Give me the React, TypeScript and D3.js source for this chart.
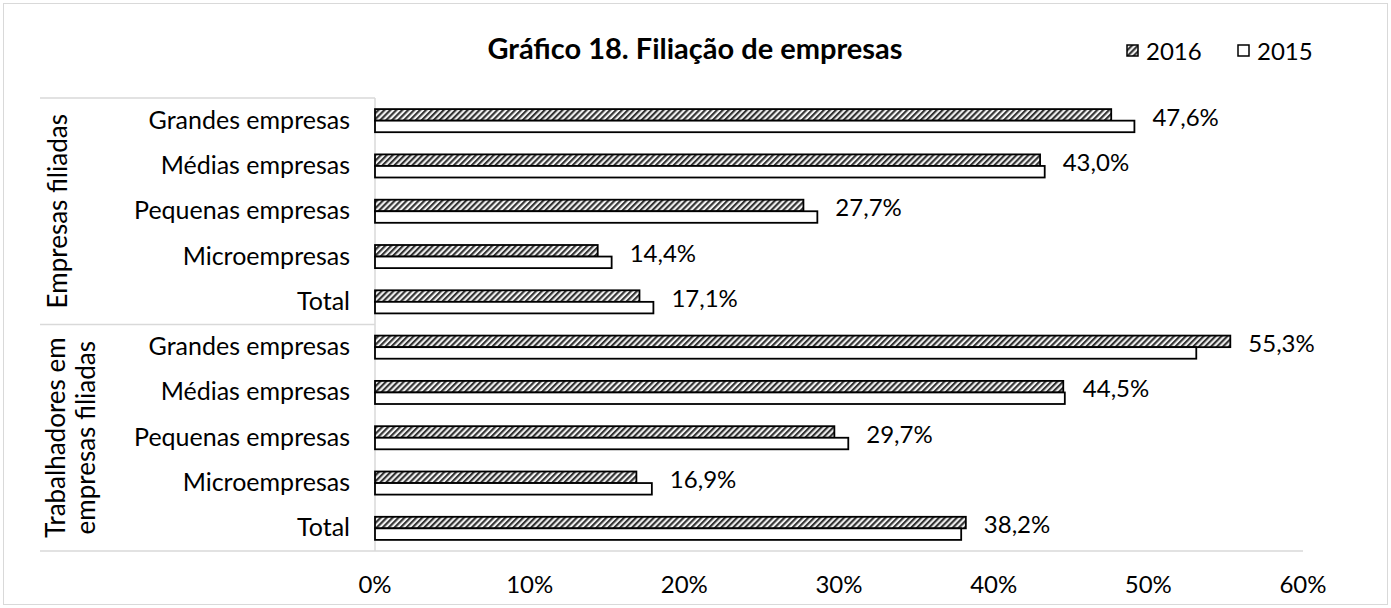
import { useEffect, useRef } from 'react';
import * as d3 from 'd3';

const groups = [['Empresas filiadas'], ['Trabalhadores em', 'empresas filiadas']];
const sizes = ['Grandes empresas', 'Médias empresas', 'Pequenas empresas', 'Microempresas', 'Total'];
const series = ['2016', '2015'];
// one value per row: first group then second group, same order as sizes
const values2016 = [47.6, 43.0, 27.7, 14.4, 17.1, 55.3, 44.5, 29.7, 16.9, 38.2];
const values2015 = [49.1, 43.3, 28.6, 15.3, 18.0, 53.1, 44.6, 30.6, 17.9, 37.9];
const ticks = [0, 10, 20, 30, 40, 50, 60];

const FONT = 'Lato, "Open Sans", sans-serif';

const App = () => {
  const svgRef = useRef<SVGSVGElement>(null);

  useEffect(() => {
    if (!svgRef.current) return;
    const W = 1391;
    const H = 608;
    const left = 375, right = 1303, top = 98, bottom = 551;

    const svg = d3.select(svgRef.current);
    svg.selectAll('*').remove();
    svg.attr('width', W).attr('height', H);

    const defs = svg.append('defs');
    const pat = defs.append('pattern')
      .attr('id', 'hatch')
      .attr('patternUnits', 'userSpaceOnUse')
      .attr('width', 4.2)
      .attr('height', 4.2)
      .attr('patternTransform', 'rotate(45)');
    pat.append('rect').attr('width', 4.2).attr('height', 4.2).attr('fill', '#f2f2f2');
    pat.append('rect').attr('width', 2.1).attr('height', 4.2).attr('fill', '#333');

    svg.append('rect')
      .attr('x', 0).attr('y', 0).attr('width', W).attr('height', H)
      .attr('fill', '#fff');
    svg.append('rect')
      .attr('x', 3.5).attr('y', 3.5).attr('width', W - 7).attr('height', H - 7)
      .attr('fill', 'none').attr('stroke', '#d9d9d9');

    const rows = groups.flatMap((g, gi) => sizes.map((s, si) => ({
      key: `${gi}-${si}`,
      label: s,
      v16: values2016[gi * sizes.length + si],
      v15: values2015[gi * sizes.length + si],
    })));

    const x = d3.scaleLinear().domain([0, 60]).range([left, right]);
    const y = d3.scaleBand()
      .domain(rows.map(r => r.key))
      .range([top, bottom])
      .paddingInner(0.49)
      .paddingOuter(0.245);
    const ySub = d3.scaleBand().domain(series).range([0, y.bandwidth()]);

    // category axis frame
    const line = (x1: number, y1: number, x2: number, y2: number) =>
      svg.append('line')
        .attr('x1', x1).attr('y1', y1).attr('x2', x2).attr('y2', y2)
        .attr('stroke', '#d9d9d9').attr('stroke-width', 1.5);
    const groupEdges = [top, (top + bottom) / 2, bottom];
    line(40, groupEdges[0], left, groupEdges[0]);
    line(40, groupEdges[1], left, groupEdges[1]);
    line(40, bottom, right, bottom);
    line(left, top, left, bottom);

    // group labels (rotated)
    groups.forEach((lines, gi) => {
      const cy = (groupEdges[gi] + groupEdges[gi + 1]) / 2;
      lines.forEach((txt, li) => {
        const bx = lines.length === 1 ? 67 : 65 + li * 30;
        svg.append('text')
          .attr('transform', `translate(${bx},${cy}) rotate(-90)`)
          .attr('text-anchor', 'middle')
          .style('font-family', FONT)
          .style('font-size', '26px')
          .style('fill', '#000')
          .text(txt);
      });
    });

    // category labels
    svg.selectAll('.cat')
      .data(rows)
      .enter()
      .append('text')
      .attr('class', 'cat')
      .attr('x', 350)
      .attr('y', d => (y(d.key) as number) + y.bandwidth() / 2 + 8)
      .attr('text-anchor', 'end')
      .style('font-family', FONT)
      .style('font-size', '25px')
      .style('fill', '#000')
      .text(d => d.label);

    // bars
    const barG = svg.append('g');
    rows.forEach(r => {
      const y0 = y(r.key) as number;
      [['2016', r.v16], ['2015', r.v15]].forEach(([s, v]) => {
        barG.append('rect')
          .attr('x', x(0))
          .attr('y', y0 + (ySub(s as string) as number))
          .attr('width', x(v as number) - x(0))
          .attr('height', ySub.bandwidth())
          .attr('fill', s === '2016' ? 'url(#hatch)' : '#fff')
          .attr('stroke', '#000')
          .attr('stroke-width', 1.8);
      });
    });

    // data labels (2016 values)
    const fmt = (v: number) => d3.format('.1f')(v).replace('.', ',') + '%';
    svg.selectAll('.val')
      .data(rows)
      .enter()
      .append('text')
      .attr('class', 'val')
      .attr('x', d => x(Math.max(d.v16, d.v15)) + 18)
      .attr('y', d => (y(d.key) as number) + y.bandwidth() / 2 + 5)
      .style('font-family', FONT)
      .style('font-size', '24px')
      .style('fill', '#000')
      .text(d => fmt(d.v16));

    // value axis labels
    svg.selectAll('.tick-l')
      .data(ticks)
      .enter()
      .append('text')
      .attr('class', 'tick-l')
      .attr('x', d => x(d))
      .attr('y', 593)
      .attr('text-anchor', 'middle')
      .style('font-family', FONT)
      .style('font-size', '24px')
      .style('fill', '#000')
      .text(d => `${d}%`);

    // title
    svg.append('text')
      .attr('x', 695)
      .attr('y', 59)
      .attr('text-anchor', 'middle')
      .style('font-family', FONT)
      .style('font-size', '29px')
      .style('font-weight', 'bold')
      .style('fill', '#000')
      .text('Gráfico 18. Filiação de empresas');

    // legend
    const legend = [
      { label: '2016', fill: 'url(#hatch)', x: 1127 },
      { label: '2015', fill: '#fff', x: 1238 },
    ];
    legend.forEach(item => {
      svg.append('rect')
        .attr('x', item.x).attr('y', 45).attr('width', 11).attr('height', 11)
        .attr('fill', item.fill).attr('stroke', '#000').attr('stroke-width', 1.5);
      svg.append('text')
        .attr('x', item.x + 19).attr('y', 60)
        .style('font-family', FONT)
        .style('font-size', '24px')
        .style('fill', '#000')
        .text(item.label);
    });
  }, []);

  return (
    <div style={{ position: 'absolute', left: 0, top: 0 }}>
      <svg ref={svgRef}></svg>
    </div>
  );
};

export default App;
